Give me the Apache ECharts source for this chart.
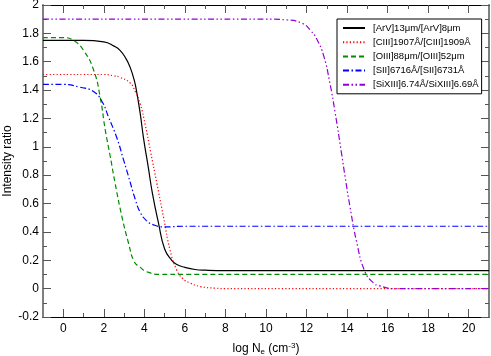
<!DOCTYPE html>
<html>
<head>
<meta charset="utf-8">
<script src="https://cdn.jsdelivr.net/npm/echarts@6/dist/echarts.min.js"></script>
<style>
  html, body { margin: 0; padding: 0; background: #fff; }
  #chart { width: 491px; height: 356px; }
</style>
</head>
<body>
<div id="chart"></div>
<script>
// log Ne values and ratios
const arvX = [-1, 0, 1, 2, 2.5, 2.8, 3.1, 3.3, 3.5, 3.63, 3.8, 3.96, 4.2, 4.4, 4.7, 5.0, 5.35, 5.6, 6, 6.5, 7, 8, 10, 21]
const arvY = [1.75, 1.75, 1.75, 1.74, 1.71, 1.68, 1.62, 1.56, 1.47, 1.38, 1.23, 1.06, 0.85, 0.67, 0.46, 0.28, 0.20, 0.17, 0.15, 0.135, 0.13, 0.127, 0.127, 0.127]

const ciiiX = [-1, 0, 1, 2, 2.5, 2.8, 3.3, 3.55, 3.8, 4.05, 4.3, 4.62, 4.95, 5.27, 5.6, 5.9, 6.25, 6.75, 7.5, 8, 21]
const ciiiY = [1.51, 1.51, 1.51, 1.51, 1.50, 1.49, 1.45, 1.39, 1.30, 1.15, 0.97, 0.74, 0.50, 0.27, 0.13, 0.07, 0.04, 0.015, 0.003, 0, 0]

const oiiiX = [-1, 0, 0.5, 1, 1.5, 1.82, 2.07, 2.32, 2.56, 2.89, 3.22, 3.5, 3.8, 4.1, 4.8, 6, 21]
const oiiiY = [1.77, 1.77, 1.75, 1.68, 1.54, 1.35, 1.12, 0.93, 0.74, 0.51, 0.32, 0.19, 0.15, 0.12, 0.10, 0.10, 0.10]

const siiX = [-1, 0, 0.84, 1.49, 1.91, 2.23, 2.65, 2.97, 3.2, 3.55, 3.79, 4.1, 4.45, 5, 6, 21]
const siiY = [1.44, 1.44, 1.42, 1.39, 1.32, 1.21, 1.06, 0.91, 0.80, 0.63, 0.54, 0.48, 0.45, 0.435, 0.44, 0.44]

const sixiiiX = [-1, 0, 5, 10, 11, 11.8, 12.2, 12.5, 12.85, 13.15, 13.4, 13.73, 13.9, 14.14, 14.47, 14.88, 15.3, 15.6, 16.3, 21]
const sixiiiY = [1.90, 1.90, 1.90, 1.90, 1.895, 1.87, 1.82, 1.76, 1.64, 1.45, 1.25, 0.95, 0.79, 0.58, 0.33, 0.12, 0.04, 0.02, 0, 0]

const seriesNames = [
  '[ArV]13μm/[ArV]8μm',
  '[CIII]1907Å/[CIII]1909Å',
  '[OIII]88μm/[OIII]52μm',
  '[SII]6716Å/[SII]6731Å',
  '[SiXIII]6.74Å/SiXIII]6.69Å'
]

const majorTicksX = [0, 2, 4, 6, 8, 10, 12, 14, 16, 18, 20]
const minorTicksX = [1, 3, 5, 7, 9, 11, 13, 15, 17, 19]

const font = 'Liberation Sans, Arial, Helvetica, sans-serif'

const zip = (xs, ys) => xs.map((x, i) => [x, ys[i]])

const styles = [
  { color: '#000000', type: 'solid' },
  { color: '#ff0000', type: [1.2, 2.2] },
  { color: '#008b00', type: [5, 3] },
  { color: '#0000ff', type: [6, 2.5, 1.5, 2.5] },
  { color: '#9400d3', type: [6, 2.5, 1.5, 2.5, 1.5, 2.5] }
]
const seriesData = [
  zip(arvX, arvY),
  zip(ciiiX, ciiiY),
  zip(oiiiX, oiiiY),
  zip(siiX, siiY),
  zip(sixiiiX, sixiiiY)
]

const chart = echarts.init(document.getElementById('chart'))

const xBase = (pos, ticks, len, withLine, withLabel) => ({
  type: 'value',
  position: pos,
  min: -1,
  max: 21,
  gridIndex: 0,
  axisLine: { show: withLine, onZero: false, lineStyle: { color: '#000', width: 1 } },
  axisTick: { show: true, inside: true, length: len, customValues: ticks, lineStyle: { color: '#555', width: 1 } },
  axisLabel: withLabel
    ? { show: true, customValues: majorTicksX, color: '#000', fontSize: 12, fontFamily: font, margin: 6 }
    : { show: false },
  splitLine: { show: false }
})

const yBase = (pos) => ({
  type: 'value',
  position: pos,
  min: -0.2,
  max: 2,
  interval: 0.2,
  axisLine: { show: true, onZero: false, lineStyle: { color: '#808080', width: 2 } },
  axisTick: { show: true, inside: true, length: 8, lineStyle: { color: '#555' } },
  minorTick: { show: true, splitNumber: 2, length: 4, lineStyle: { color: '#555' } },
  axisLabel: { show: pos === 'left', color: '#000', fontSize: 12, fontFamily: font, margin: 4 },
  splitLine: { show: false }
})

chart.setOption({
  animation: false,
  backgroundColor: '#fff',
  grid: { left: 43, right: 2, top: 5, bottom: 39, outerBoundsMode: 'none', containLabel: false },
  legend: {
    orient: 'vertical',
    left: 337,
    top: 19,
    padding: [4, 3, 4, 5],
    itemWidth: 22,
    itemHeight: 10,
    itemGap: 4.2,
    borderColor: '#000',
    borderWidth: 1,
    borderRadius: 0,
    backgroundColor: '#fff',
    itemStyle: { opacity: 0 },
    textStyle: { fontSize: 9.5, fontFamily: font, color: '#000', padding: [0, 0, 0, 3] },
    data: seriesNames
  },
  xAxis: [
    Object.assign(xBase('bottom', majorTicksX, 8, true, true), {
      name: '{a|log N}{sub|e}{a| (cm}{sup|-3}{a|)}',
      nameLocation: 'middle',
      nameGap: 25,
      nameMoveOverlap: false,
      nameTextStyle: {
        rich: {
          a: { fontSize: 12, fontFamily: font, color: '#000' },
          sub: { fontSize: 8, fontFamily: font, color: '#000', verticalAlign: 'bottom', padding: [6, 0, 0, 0] },
          sup: { fontSize: 8, fontFamily: font, color: '#000', verticalAlign: 'top', padding: [0, 0, 6, 0] }
        }
      }
    }),
    xBase('bottom', minorTicksX, 4, false, false),
    xBase('top', majorTicksX, 8, true, false),
    xBase('top', minorTicksX, 4, false, false)
  ],
  yAxis: [
    Object.assign(yBase('left'), {
      name: 'Intensity ratio',
      nameLocation: 'middle',
      nameGap: 29,
      nameMoveOverlap: false,
      nameTextStyle: { fontSize: 12, fontFamily: font, color: '#000' }
    }),
    yBase('right')
  ],
  series: seriesNames.map((name, i) => ({
    name: name,
    type: 'line',
    xAxisIndex: 0,
    yAxisIndex: 0,
    data: seriesData[i],
    smooth: 0.5,
    symbol: 'none',
    color: styles[i].color,
    lineStyle: { color: styles[i].color, width: 1.2, type: styles[i].type }
  }))
})
</script>
</body>
</html>
